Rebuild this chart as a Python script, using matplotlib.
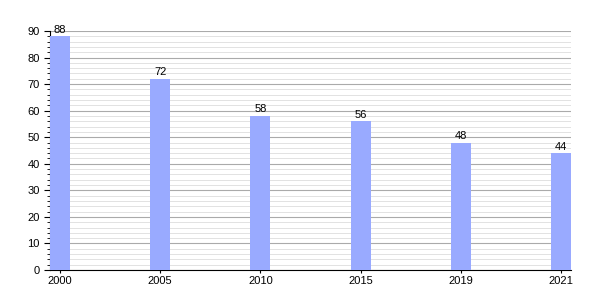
import matplotlib
matplotlib.use("Agg")
import matplotlib.pyplot as plt
from matplotlib.ticker import MultipleLocator

years = ["2000", "2005", "2010", "2015", "2019", "2021"]
values = [88, 72, 58, 56, 48, 44]

plt.rcParams['font.family'] = ['Liberation Sans', 'DejaVu Sans']
fig = plt.figure(figsize=(6, 3), dpi=100)
ax = fig.add_axes([50/600, 30/300, 521/600, 239/300])

x = list(range(len(years)))
bars = ax.bar(x, values, width=0.2, color='#99aaff', zorder=3)
for xi, v in zip(x, values):
    ax.text(xi, v + 0.6, str(v), ha='center', va='bottom', fontsize=8, zorder=4)

ax.set_xlim(-0.1, 5.1)
ax.set_ylim(0, 90)
ax.set_xticks(x)
ax.set_xticklabels(years, fontsize=8)
ax.yaxis.set_major_locator(MultipleLocator(10))
ax.yaxis.set_minor_locator(MultipleLocator(2))
ax.tick_params(axis='y', labelsize=8, length=4, width=0.8)
ax.tick_params(axis='y', which='minor', length=2, width=0.6)
ax.tick_params(axis='x', length=2, width=0.8, pad=2)
ax.grid(axis='y', which='major', color='#aaaaaa', linewidth=0.8, zorder=0)
ax.grid(axis='y', which='minor', color='#dddddd', linewidth=0.6, zorder=0)
for s in ['top', 'right']:
    ax.spines[s].set_visible(False)
ax.spines['left'].set_linewidth(0.8)
ax.spines['bottom'].set_linewidth(0.8)

fig.savefig("out.png", dpi=100)
